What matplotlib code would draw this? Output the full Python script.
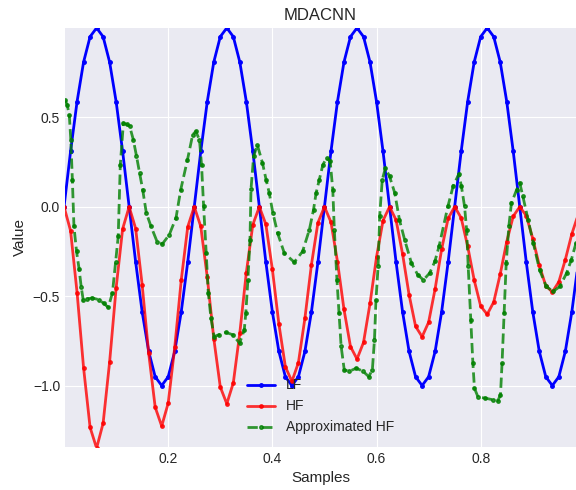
import numpy as np
import matplotlib
matplotlib.use("Agg")
import matplotlib.pyplot as plt

# sample positions for LF / HF
samples = [0.0, 0.0125, 0.025, 0.0375, 0.05, 0.0625, 0.075, 0.0875, 0.1, 0.1125,
           0.125, 0.1375, 0.15, 0.1625, 0.175, 0.1875, 0.2, 0.2125, 0.225, 0.2375,
           0.25, 0.2625, 0.275, 0.2875, 0.3, 0.3125, 0.325, 0.3375, 0.35, 0.3625,
           0.375, 0.3875, 0.4, 0.4125, 0.425, 0.4375, 0.45, 0.4625, 0.475, 0.4875,
           0.5, 0.5125, 0.525, 0.5375, 0.55, 0.5625, 0.575, 0.5875, 0.6, 0.6125,
           0.625, 0.6375, 0.65, 0.6625, 0.675, 0.6875, 0.7, 0.7125, 0.725, 0.7375,
           0.75, 0.7625, 0.775, 0.7875, 0.8, 0.8125, 0.825, 0.8375, 0.85, 0.8625,
           0.875, 0.8875, 0.9, 0.9125, 0.925, 0.9375, 0.95, 0.9625, 0.975, 0.9875]

lf = [0.0, 0.309, 0.588, 0.809, 0.951, 1.0, 0.951, 0.809, 0.588, 0.309,
      0.0, -0.309, -0.588, -0.809, -0.951, -1.0, -0.951, -0.809, -0.588, -0.309,
      0.0, 0.309, 0.588, 0.809, 0.951, 1.0, 0.951, 0.809, 0.588, 0.309,
      0.0, -0.309, -0.588, -0.809, -0.951, -1.0, -0.951, -0.809, -0.588, -0.309,
      0.0, 0.309, 0.588, 0.809, 0.951, 1.0, 0.951, 0.809, 0.588, 0.309,
      0.0, -0.309, -0.588, -0.809, -0.951, -1.0, -0.951, -0.809, -0.588, -0.309,
      0.0, 0.309, 0.588, 0.809, 0.951, 1.0, 0.951, 0.809, 0.588, 0.309,
      0.0, -0.309, -0.588, -0.809, -0.951, -1.0, -0.951, -0.809, -0.588, -0.309]

hf = [0.0, -0.134, -0.48, -0.901, -1.234, -1.35, -1.211, -0.868, -0.454, -0.124,
      0.0, -0.122, -0.437, -0.819, -1.121, -1.227, -1.098, -0.787, -0.411, -0.112,
      0.0, -0.11, -0.394, -0.737, -1.008, -1.102, -0.985, -0.705, -0.368, -0.1,
      0.0, -0.098, -0.35, -0.656, -0.895, -0.977, -0.872, -0.623, -0.324, -0.089,
      0.0, -0.086, -0.307, -0.574, -0.782, -0.852, -0.759, -0.541, -0.281, -0.077,
      0.0, -0.074, -0.264, -0.492, -0.669, -0.727, -0.646, -0.459, -0.238, -0.065,
      0.0, -0.062, -0.221, -0.41, -0.556, -0.602, -0.533, -0.377, -0.195, -0.053,
      0.0, -0.05, -0.178, -0.328, -0.442, -0.477, -0.42, -0.296, -0.152, -0.041]

# approximated HF
approx_x = [0.002, 0.006, 0.01, 0.013, 0.016, 0.019, 0.024, 0.029, 0.033, 0.037,
            0.045, 0.054, 0.067, 0.076, 0.085, 0.093, 0.099, 0.104, 0.108, 0.114,
            0.12, 0.126, 0.133, 0.139, 0.145, 0.151, 0.158, 0.167, 0.179, 0.189,
            0.202, 0.215, 0.224, 0.237, 0.247, 0.253, 0.26, 0.264, 0.268, 0.273,
            0.277, 0.282, 0.288, 0.298, 0.311, 0.324, 0.337, 0.346, 0.349, 0.353,
            0.357, 0.359, 0.364, 0.371, 0.381, 0.388, 0.394, 0.401, 0.41, 0.423,
            0.442, 0.458, 0.471, 0.479, 0.484, 0.49, 0.497, 0.504, 0.511, 0.516,
            0.519, 0.524, 0.528, 0.532, 0.538, 0.548, 0.561, 0.574, 0.585, 0.592,
            0.596, 0.599, 0.603, 0.606, 0.611, 0.617, 0.625, 0.635, 0.644, 0.654,
            0.667, 0.679, 0.69, 0.702, 0.712, 0.72, 0.737, 0.747, 0.758, 0.763,
            0.769, 0.773, 0.776, 0.781, 0.785, 0.788, 0.795, 0.808, 0.824, 0.833,
            0.838, 0.841, 0.845, 0.849, 0.854, 0.859, 0.869, 0.875, 0.881, 0.891,
            0.901, 0.913, 0.926, 0.939, 0.952, 0.965, 0.974, 0.983]
approx_hf = [0.595, 0.57, 0.515, 0.375, 0.15, -0.11, -0.25, -0.35, -0.45, -0.524,
             -0.515, -0.51, -0.52, -0.54, -0.563, -0.48, -0.31, -0.166, 0.235, 0.468,
             0.46, 0.45, 0.375, 0.285, 0.19, 0.095, -0.035, -0.11, -0.198, -0.207,
             -0.157, -0.062, 0.095, 0.263, 0.403, 0.421, 0.375, 0.235, 0.002, -0.26,
             -0.483, -0.62, -0.726, -0.715, -0.703, -0.716, -0.763, -0.69, -0.595, -0.41,
             -0.185, 0.1, 0.281, 0.347, 0.245, 0.151, 0.077, -0.035, -0.147, -0.26,
             -0.31, -0.25, -0.129, -0.017, 0.077, 0.151, 0.235, 0.272, 0.254, 0.095,
             -0.129, -0.41, -0.595, -0.78, -0.912, -0.92, -0.903, -0.92, -0.95, -0.912,
             -0.744, -0.52, -0.334, -0.054, 0.151, 0.216, 0.17, 0.077, -0.073, -0.185,
             -0.315, -0.38, -0.41, -0.371, -0.306, -0.222, 0.002, 0.114, 0.183, 0.114,
             0.002, -0.129, -0.334, -0.632, -0.875, -1.015, -1.065, -1.07, -1.08, -1.084,
             -1.052, -0.875, -0.595, -0.315, -0.11, 0.02, 0.095, 0.133, 0.058, -0.073,
             -0.203, -0.353, -0.446, -0.474, -0.446, -0.371, -0.297, -0.203]

plt.style.use("seaborn-v0_8-darkgrid")
fig, ax = plt.subplots(figsize=(5.76, 4.9), dpi=100)
fig.subplots_adjust(left=0.113, right=1.0, bottom=0.088, top=0.943)

ax.plot(samples, lf, 'b.-', lw=2, ms=5, label='LF')
ax.plot(samples, hf, 'r.-', lw=2, ms=5, alpha=0.8, label='HF')
ax.plot(approx_x, approx_hf, 'g.--', lw=2, ms=5, alpha=0.8, label='Approximated HF')

ax.set_xlim(0.002, 0.983)
ax.set_ylim(-1.343, 1.0)
ax.set_xticks([0.2, 0.4, 0.6, 0.8])
ax.set_yticks([-1.0, -0.5, 0.0, 0.5])
ax.set_xlabel('Samples', fontsize=11)
ax.set_ylabel('Value', fontsize=11)
ax.set_title('MDACNN', fontsize=12)
ax.legend(loc='lower center', fontsize=10)

plt.savefig("out.png")
